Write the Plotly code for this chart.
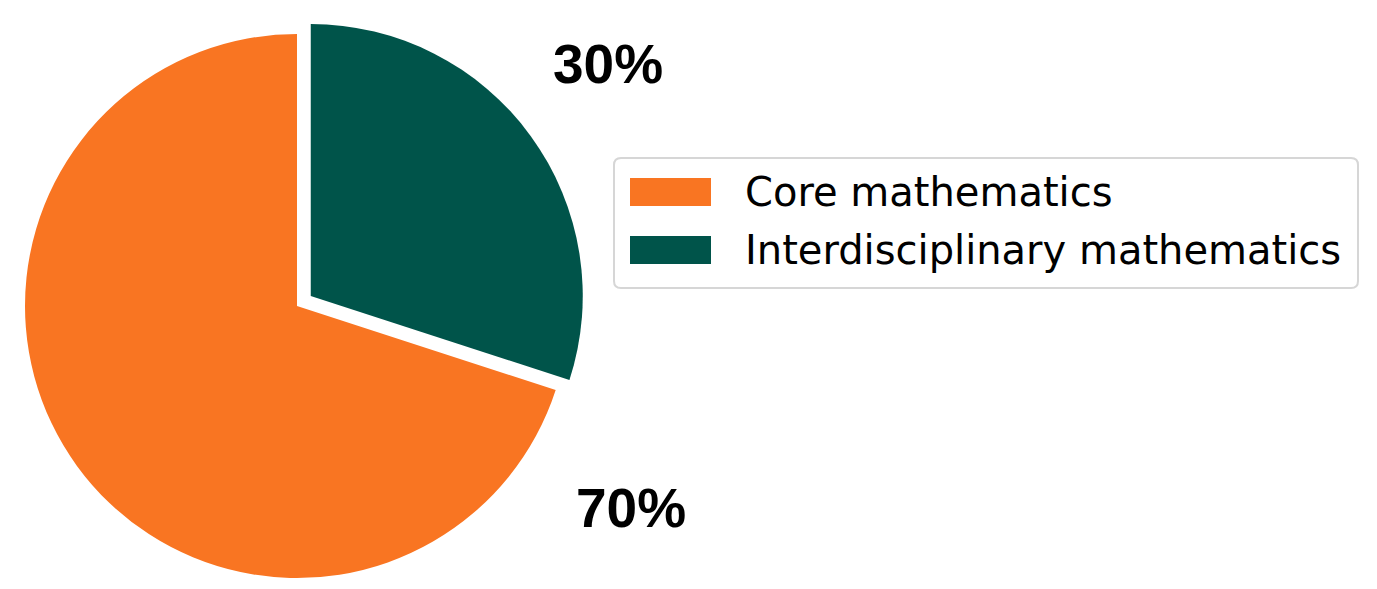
import plotly.graph_objects as go

# data
labels = ["Core mathematics", "Interdisciplinary mathematics"]
values = [70, 30]
colors = ["#F97522", "#00544A"]
pulls = [0, 0.0625]

W = 1377
TOP, PH, BOT = 8, 580, 20
H = TOP + PH + BOT
OFF = 8  # page body margin


def px(x):
    return (x - OFF) / W


def py(y):
    # pixel from top of the window -> paper coordinate
    return (TOP + PH - (y - OFF)) / PH


fig = go.Figure()
fig.add_trace(go.Pie(
    labels=labels,
    values=values,
    marker=dict(colors=colors, line=dict(width=0)),
    pull=pulls,
    sort=False,
    direction="clockwise",
    rotation=360 * values[1] / sum(values),
    textinfo="none",
    hoverinfo="label+percent",
    showlegend=False,
    domain=dict(x=[0, 578 / W], y=[0, 1]),
))

# percentage labels
pct = [f"{v / sum(values) * 100:.0f}%" for v in values]
label_pos = [(631, 508), (608, 64)]
for text, (x, y) in zip(pct, label_pos):
    fig.add_annotation(
        x=px(x), y=py(y), xref="paper", yref="paper",
        text=f"<b>{text}</b>", showarrow=False,
        font=dict(family="Liberation Sans, Arial", size=55, color="black"),
        xanchor="center", yanchor="middle",
    )

# legend drawn by hand (wide swatches like the original)
x0, x1, y0, y1, rad = 614, 1358, 158, 288, 7
path = (
    f"M {px(x0 + rad)} {py(y0)} L {px(x1 - rad)} {py(y0)} "
    f"Q {px(x1)} {py(y0)} {px(x1)} {py(y0 + rad)} L {px(x1)} {py(y1 - rad)} "
    f"Q {px(x1)} {py(y1)} {px(x1 - rad)} {py(y1)} L {px(x0 + rad)} {py(y1)} "
    f"Q {px(x0)} {py(y1)} {px(x0)} {py(y1 - rad)} L {px(x0)} {py(y0 + rad)} "
    f"Q {px(x0)} {py(y0)} {px(x0 + rad)} {py(y0)} Z"
)
fig.add_shape(type="path", path=path, xref="paper", yref="paper",
              line=dict(color="#d6d6d6", width=2), fillcolor="white", layer="below")

rows = [192, 250]
for lab, col, yc in zip(labels, colors, rows):
    fig.add_shape(type="rect", xref="paper", yref="paper",
                  x0=px(630), x1=px(711), y0=py(yc - 14), y1=py(yc + 14),
                  fillcolor=col, line=dict(width=0))
    fig.add_annotation(
        x=px(743), y=py(yc), xref="paper", yref="paper",
        text=lab, showarrow=False,
        font=dict(family="DejaVu Sans", size=40, color="black"),
        xanchor="left", yanchor="middle",
    )

fig.update_layout(
    width=W, height=H,
    margin=dict(l=0, r=0, t=TOP, b=BOT),
    paper_bgcolor="white",
    plot_bgcolor="white",
)

fig.write_html("out.html")
